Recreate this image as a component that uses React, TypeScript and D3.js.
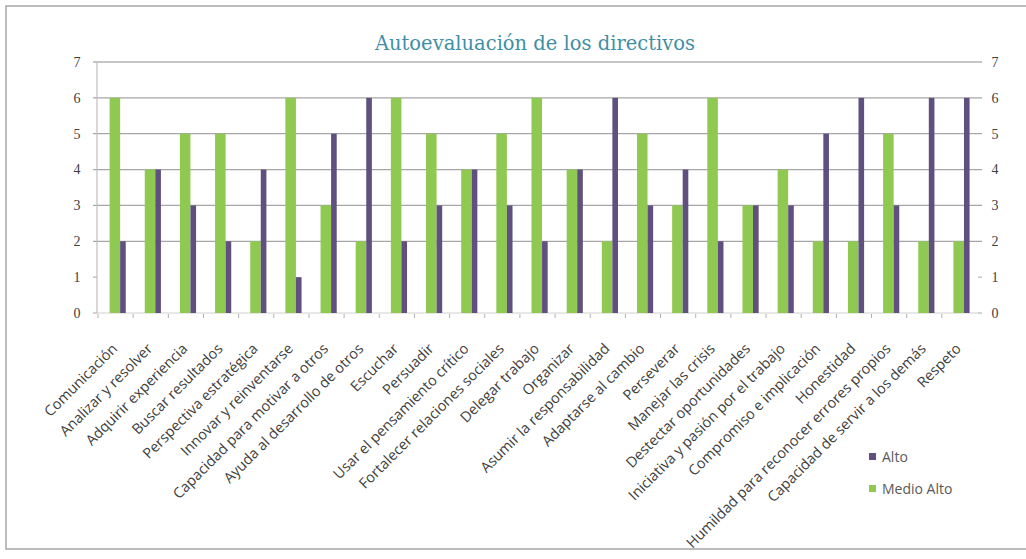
import React from "react";
import * as d3 from "d3";

const categories = [
  "Comunicación",
  "Analizar y resolver",
  "Adquirir experiencia",
  "Buscar resultados",
  "Perspectiva estratégica",
  "Innovar y reinventarse",
  "Capacidad para motivar a otros",
  "Ayuda al desarrollo de otros",
  "Escuchar",
  "Persuadir",
  "Usar el pensamiento crítico",
  "Fortalecer relaciones sociales",
  "Delegar trabajo",
  "Organizar",
  "Asumir la responsabilidad",
  "Adaptarse al cambio",
  "Perseverar",
  "Manejar las crisis",
  "Destectar oportunidades",
  "Iniciativa y pasión por el trabajo",
  "Compromiso e implicación",
  "Honestidad",
  "Humildad para reconocer errores propios",
  "Capacidad de servir a los demás",
  "Respeto",
];

const medioAlto = [6, 4, 5, 5, 2, 6, 3, 2, 6, 5, 4, 5, 6, 4, 2, 5, 3, 6, 3, 4, 2, 2, 5, 2, 2];
const alto = [2, 4, 3, 2, 4, 1, 5, 6, 2, 3, 4, 3, 2, 4, 6, 3, 4, 2, 3, 3, 5, 6, 3, 6, 6];

const yTicks = [0, 1, 2, 3, 4, 5, 6, 7];
const gridTicks = [2, 3, 4, 5, 6, 7];
const title = "Autoevaluación de los directivos";
const legendItems = [
  { label: "Alto", color: "#60507f" },
  { label: "Medio Alto", color: "#8fc952" },
];

const W = 1026;
const H = 559;
const left = 97;
const right = 978;
const top = 62;
const bottom = 313;

export default function App() {
  const x = d3.scaleBand<string>().domain(categories).range([98, 977]).paddingInner(0).paddingOuter(0);
  const y = d3.scaleLinear().domain([0, 7]).range([bottom, top]);
  const bw = x.bandwidth();
  const greenW = bw * 0.3;
  const purpleW = bw * 0.16;

  return (
    <svg
      width={W}
      height={H}
      style={{ position: "fixed", left: 0, top: 0, background: "#fff", overflow: "hidden" }}
    >
      <path d="M1030,6 H6 V549 H1030" fill="#fff" stroke="#a6a6a6" strokeWidth={1.5} />
      <text
        x={535}
        y={50}
        textAnchor="middle"
        fontFamily="'DejaVu Serif', serif"
        fontSize={19.5}
        fill="#3f8fa6"
      >
        {title}
      </text>

      {gridTicks.map((t) => (
        <line
          key={"g" + t}
          x1={left - 4}
          x2={right + 4}
          y1={y(t)}
          y2={y(t)}
          stroke={t === 7 ? "#8c8c8c" : "#a6a6a6"}
          strokeWidth={1.2}
        />
      ))}
      {[0, 1].map((t) => (
        <g key={"tk" + t}>
          <line x1={left - 4} x2={left} y1={y(t)} y2={y(t)} stroke="#a6a6a6" />
          <line x1={right} x2={right + 4} y1={y(t)} y2={y(t)} stroke="#a6a6a6" />
        </g>
      ))}
      <line x1={left} x2={left} y1={top} y2={bottom} stroke="#bfbfbf" strokeWidth={1.2} />
      <line x1={left} x2={right} y1={bottom} y2={bottom} stroke="#d0d0d0" strokeWidth={1} />

      {categories.map((c, i) => (
        <line
          key={"ct" + i}
          x1={x(c) as number}
          x2={x(c) as number}
          y1={bottom + 1}
          y2={bottom + 5}
          stroke="#b0b0b0"
        />
      ))}

      {yTicks.map((t) => (
        <g key={"yl" + t} fontFamily="'Liberation Serif', serif" fontSize={14} fill="#404040">
          <text x={77} y={y(t)} dy="0.35em" textAnchor="middle">
            {t}
          </text>
          <text x={995} y={y(t)} dy="0.35em" textAnchor="middle">
            {t}
          </text>
        </g>
      ))}

      {categories.map((c, i) => {
        const cx = (x(c) as number) + bw / 2 + 2;
        return (
          <g key={"b" + i}>
            <rect
              x={cx - 8}
              y={y(medioAlto[i])}
              width={greenW}
              height={bottom - y(medioAlto[i])}
              fill="#8fc952"
            />
            <rect
              x={cx - 8 + greenW}
              y={y(alto[i])}
              width={purpleW}
              height={bottom - y(alto[i])}
              fill="#60507f"
            />
          </g>
        );
      })}

      {categories.map((c, i) => {
        const cx = (x(c) as number) + bw / 2;
        return (
          <text
            key={"cl" + i}
            transform={`translate(${cx - 1},${bottom + 33}) rotate(-45)`}
            textAnchor="end"
            dy="0.35em"
            fontFamily="'Open Sans', sans-serif"
            fontSize={14.5}
            fill="#404040"
          >
            {c}
          </text>
        );
      })}

      {legendItems.map((l, i) => (
        <g key={"lg" + i}>
          <rect x={869} y={453 + i * 32} width={7} height={7} fill={l.color} />
          <text
            x={882}
            y={457 + i * 32}
            dy="0.35em"
            fontFamily="'Open Sans', sans-serif"
            fontSize={14}
            fill="#595959"
          >
            {l.label}
          </text>
        </g>
      ))}
    </svg>
  );
}
